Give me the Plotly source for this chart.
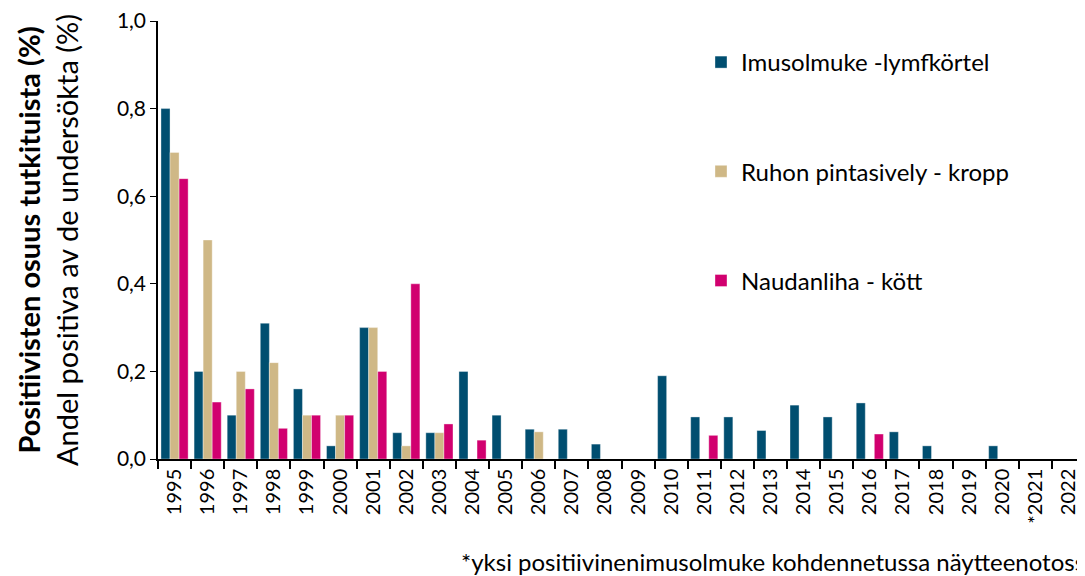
import plotly.graph_objects as go

years = ["1995","1996","1997","1998","1999","2000","2001","2002","2003","2004","2005","2006","2007","2008",
         "2009","2010","2011","2012","2013","2014","2015","2016","2017","2018","2019","2020","*2021","2022"]
imusolmuke = [0.80,0.20,0.10,0.31,0.16,0.03,0.30,0.06,0.06,0.20,0.10,0.068,0.068,0.034,
              0,0.19,0.096,0.096,0.065,0.123,0.096,0.128,0.062,0.03,0,0.03,0,0]
ruho = [0.70,0.50,0.20,0.22,0.10,0.10,0.30,0.03,0.06,0,0,0.062,0,0,
        0,0,0,0,0,0,0,0,0,0,0,0,0,0]
naudanliha = [0.64,0.13,0.16,0.07,0.10,0.10,0.20,0.40,0.08,0.043,0,0,0,0,
              0,0,0.054,0,0,0,0,0.057,0,0,0,0,0,0]

names = ["Imusolmuke -lymfkörtel", "Ruhon pintasively - kropp", "Naudanliha - kött"]
colors = ["#004e70", "#cfb886", "#d1006f"]
series = [imusolmuke, ruho, naudanliha]

fig = go.Figure()
for i, (n, c, v) in enumerate(zip(names, colors, series)):
    fig.add_trace(go.Bar(x=years, y=v, name=n, marker_color=c,
                         marker_line=dict(color="rgba(255,255,255,0.6)", width=0.6),
                         legendgroup=str(i)))

FONT = "Lato, Open Sans, sans-serif"
# page body has an 8px margin; compensate so the plot spans to the right edge
OFF = 8
fig.update_layout(
    width=1085 - OFF, height=576 - OFF,
    margin=dict(l=158 - OFF, r=0, t=21 - OFF, b=117),
    paper_bgcolor="white", plot_bgcolor="white",
    barmode="group", bargap=0.18, bargroupgap=0,
    font=dict(family=FONT, color="black"),
    showlegend=True,
    legend=dict(x=(701-158)/927, y=(459-40)/438, xanchor="left", yanchor="top",
                font=dict(size=24, family=FONT), tracegroupgap=75,
                bgcolor="rgba(0,0,0,0)"),
    xaxis=dict(type="category", tickangle=-90, tickfont=dict(size=20), automargin=False,
               showline=True, linecolor="black", linewidth=1.5,
               ticks="outside", tickson="boundaries", ticklen=8, tickcolor="black", tickwidth=1.5,
               showgrid=False),
    yaxis=dict(range=[0, 1.0], dtick=0.2, tickformat=".1f", automargin=False,
               ticklabeloverflow="allow",
               tickfont=dict(size=21), showline=True, linecolor="black", linewidth=1.5,
               ticks="outside", ticklen=6, tickcolor="black", showgrid=False, zeroline=False,
               title=dict(text="<b>Positiivisten osuus tutkituista (%)</b><br>Andel positiva av de undersökta (%)",
                          font=dict(size=29), standoff=30)),
    separators=",.",
)
fig.add_annotation(text="*yksi positiivinenimusolmuke kohdennetussa näytteenotossa",
                   xref="paper", yref="paper", x=(459-158)/927, y=-(561-459)/438,
                   xanchor="left", yanchor="middle", showarrow=False,
                   font=dict(size=24, family=FONT))
fig.write_html("out.html")
